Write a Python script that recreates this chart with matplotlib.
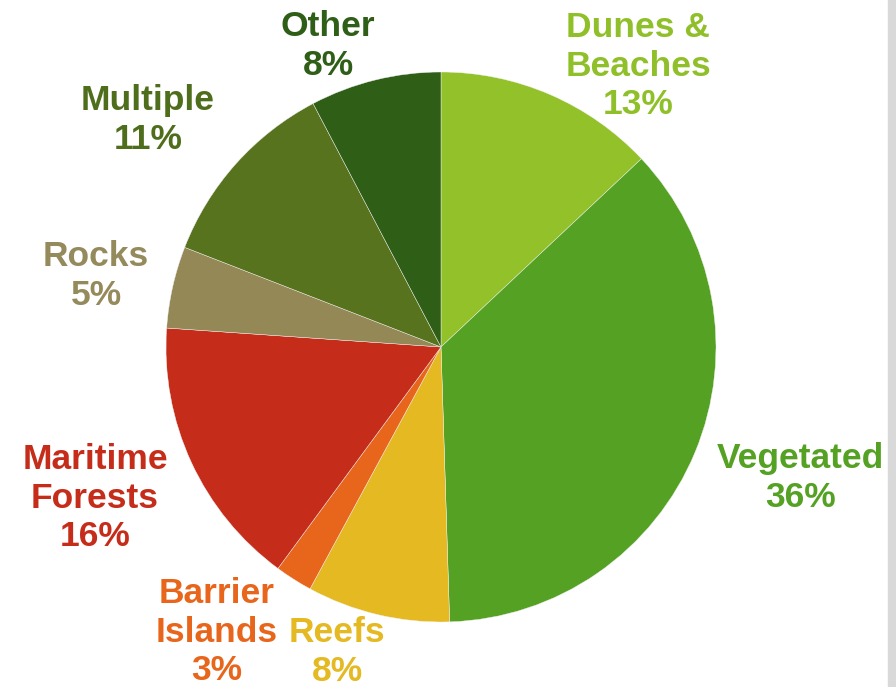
import matplotlib.pyplot as plt
from matplotlib.patches import Rectangle

plt.rcParams['font.family'] = ['Liberation Sans', 'DejaVu Sans']

# habitat shares, clockwise from 12 o'clock
names = ['Dunes &\nBeaches', 'Vegetated', 'Reefs', 'Barrier\nIslands',
         'Maritime\nForests', 'Rocks', 'Multiple', 'Other']
values = [13.0, 36.5, 8.4, 2.2, 16.0, 4.8, 11.4, 7.7]
pct_labels = ['13%', '36%', '8%', '3%', '16%', '5%', '11%', '8%']
colors = ['#93c12a', '#55a124', '#e4b921', '#e8661c',
          '#c52d1a', '#958857', '#58731d', '#2f5f16']
text_colors = ['#8fc02a', '#55a124', '#e4b921', '#e8661c',
               '#c52d1a', '#958a5b', '#4f6e1c', '#2f5e17']
# label block centres in pixel coords (x, y from top)
label_pos = [(638, 66), (800, 478), (337, 652), (217, 632),
             (95, 498), (96, 276), (148, 120), (328, 46)]

W, H = 896, 687
fig = plt.figure(figsize=(W / 100, H / 100), dpi=100)
ax = fig.add_axes([0, 0, 1, 1])

ax.pie(values, colors=colors, startangle=90, counterclock=False,
       center=(441, H - 347), radius=275, frame=True,
       wedgeprops=dict(edgecolor='#f4f4f4', linewidth=0.3))
ax.set_xlim(0, W)
ax.set_ylim(0, H)
ax.set_aspect('equal')
ax.axis('off')

for name, pct, (x, y), c in zip(names, pct_labels, label_pos, text_colors):
    ax.text(x, H - y, name + '\n' + pct, color=c, fontsize=25.5,
            fontweight='bold', ha='center', va='center', linespacing=1.22)

# grey strip at right edge of the screenshot
fig.patches.append(Rectangle((888 / W, 0), 8 / W, 1, transform=fig.transFigure,
                             color='#d9d9d9', zorder=-1))

plt.savefig('out.png', dpi=100)
